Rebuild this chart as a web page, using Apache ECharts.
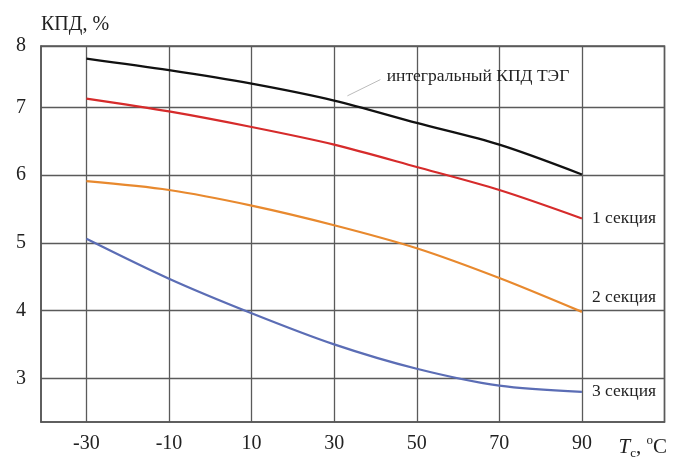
<!DOCTYPE html>
<html>
  <head>
      <meta charset="utf-8">
      <script src="https://cdn.jsdelivr.net/npm/echarts@6/dist/echarts.min.js"></script>
  </head>

<body style="margin:0">
    <div id="main" style="width: 675px;height:460px;"></div>
    <script type="text/javascript">
        // температура, °C
        var temps = [-30, -10, 10, 30, 50, 70, 90];
        // КПД, %
        var integral = [7.72, 7.55, 7.35, 7.10, 6.77, 6.45, 6.01];
        var sec1 = [7.13, 6.94, 6.71, 6.45, 6.12, 5.78, 5.36];
        var sec2 = [5.91, 5.78, 5.55, 5.26, 4.92, 4.48, 3.98];
        var sec3 = [5.06, 4.47, 3.96, 3.50, 3.14, 2.89, 2.80];

        var xTicks = [-30, -10, 10, 30, 50, 70, 90];
        var yTicks = [3, 4, 5, 6, 7];

        var font = 'Liberation Serif';
        var yMin = 2.354, yMax = 7.906;

        function pairs(ys) {
            return temps.map(function (t, i) { return [t, ys[i]]; });
        }

        function line(name, color, ys, label, dy) {
            return {
                name: name,
                type: 'line',
                smooth: 0.3,
                showSymbol: false,
                lineStyle: { color: color, width: 2.2 },
                data: pairs(ys),
                endLabel: {
                    show: !!label,
                    formatter: label,
                    offset: [2, dy || 0],
                    fontFamily: font,
                    fontSize: 17.5,
                    color: '#222'
                }
            };
        }

        var myChart = echarts.init(document.getElementById('main'));
        myChart.setOption({
            animation: false,
            grid: {
                left: 41, right: 10.5, top: 46, bottom: 36,
                show: true, borderColor: '#555', borderWidth: 1.5
            },
            xAxis: {
                type: 'value',
                min: -41,
                max: 110,
                name: '{i|T}{sub|c}{n|, }{sup|o}{n|C}',
                nameLocation: 'end',
                nameGap: -46,
                nameTextStyle: {
                    verticalAlign: 'top',
                    padding: [12, 0, 0, 0],
                    rich: {
                        i: { fontFamily: font, fontSize: 21, fontStyle: 'italic', lineHeight: 26, color: '#222' },
                        sub: { fontFamily: font, fontSize: 13, lineHeight: 13, verticalAlign: 'bottom', color: '#222' },
                        n: { fontFamily: font, fontSize: 21, lineHeight: 26, color: '#222' },
                        sup: { fontFamily: font, fontSize: 13, lineHeight: 13, verticalAlign: 'top', color: '#222' }
                    }
                },
                axisLine: { onZero: false, lineStyle: { color: '#555', width: 1.5 } },
                axisTick: { show: false, customValues: xTicks.concat([110]) },
                axisLabel: {
                    customValues: xTicks,
                    margin: 12,
                    fontFamily: font, fontSize: 20, color: '#222'
                },
                splitLine: { lineStyle: { color: '#5a5a5a', width: 1.3 } }
            },
            yAxis: {
                type: 'value',
                min: yMin,
                max: yMax,
                name: 'КПД, %',
                nameLocation: 'end',
                nameGap: 11,
                nameTextStyle: { align: 'left', fontFamily: font, fontSize: 20, color: '#222' },
                axisLine: { show: true, onZero: false, lineStyle: { color: '#555', width: 1.5 } },
                axisTick: { show: false, customValues: yTicks.concat([yMax]) },
                axisLabel: {
                    customValues: yTicks.concat([yMax]),
                    formatter: function (v) { return Math.round(v); },
                    margin: 15,
                    fontFamily: font, fontSize: 20, color: '#222'
                },
                splitLine: { lineStyle: { color: '#5a5a5a', width: 1.3 } }
            },
            series: [
                (function () {
                    var s = line('интегральный КПД ТЭГ', '#111', integral);
                    s.markLine = {
                        silent: true,
                        symbol: 'none',
                        lineStyle: { color: '#bbb', width: 1, type: 'solid' },
                        label: {
                            show: true, position: 'end', distance: 7,
                            formatter: 'интегральный КПД ТЭГ',
                            fontFamily: font, fontSize: 17.5, color: '#222'
                        },
                        data: [[{ coord: [33.2, 7.17] }, { coord: [41.2, 7.41] }]]
                    };
                    return s;
                })(),
                line('1 секция', '#d62b2b', sec1, '1 секция', 0),
                line('2 секция', '#e8892e', sec2, '2 секция', -14),
                line('3 секция', '#5b6db5', sec3, '3 секция', 0)
            ]
        });
    </script>
</body>

</html>
